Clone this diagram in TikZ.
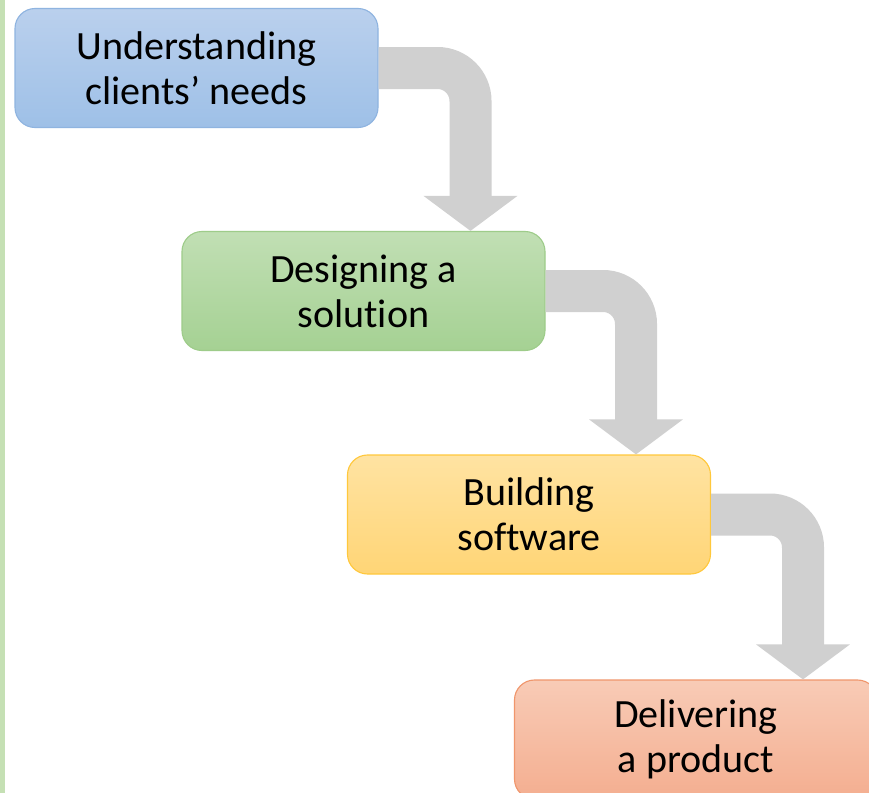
\documentclass[tikz,border=0pt]{standalone}
\usepackage{fontspec}
\setmainfont{Carlito}[Ligatures=NoCommon]
\usetikzlibrary{arrows.meta}

\definecolor{leftbar}{RGB}{197,224,180}
\definecolor{arrowgray}{RGB}{208,208,208}
\definecolor{bluetop}{RGB}{186,208,237}
\definecolor{bluebot}{RGB}{158,192,231}
\definecolor{blueline}{RGB}{143,180,224}
\definecolor{greentop}{RGB}{193,223,180}
\definecolor{greenbot}{RGB}{165,209,147}
\definecolor{greenline}{RGB}{158,204,138}
\definecolor{yellowtop}{RGB}{255,227,162}
\definecolor{yellowbot}{RGB}{255,213,118}
\definecolor{yellowline}{RGB}{255,200,60}
\definecolor{orangetop}{RGB}{248,203,182}
\definecolor{orangebot}{RGB}{244,174,144}
\definecolor{orangeline}{RGB}{240,150,108}

\begin{document}
\begin{tikzpicture}[
    stage/.style={rounded corners=.5cm, minimum width=9.075cm,
      minimum height=2.975cm, align=center, line width=.8pt,
      font=\fontsize{28.5}{32}\selectfont},
    flow/.style={draw=arrowgray, line width=1.05cm, rounded corners=.825cm,
      -{Triangle[length=.875cm, width=2.3cm]}},
  ]
    \clip (0, 0) rectangle (21.725, -19.825) ;
    \fill[white] (0, 0) rectangle (21.725, -19.825) ;
    \fill[leftbar] (0, 0) rectangle (.125, -19.825) ;

    % the four stages
    \node[stage, draw=blueline, top color=bluetop, bottom color=bluebot]
      (needs) at (4.9125, -1.7) {Understanding\\clients’ needs} ;
    \node[stage, draw=greenline, top color=greentop, bottom color=greenbot]
      (design) at (9.0875, -7.275) {Designing a\\solution} ;
    \node[stage, draw=yellowline, top color=yellowtop, bottom color=yellowbot]
      (build) at (13.225, -12.8625) {Building\\software} ;
    \node[stage, draw=orangeline, top color=orangetop, bottom color=orangebot]
      (deliver) at (17.4, -18.4875) {Delivering\\a product} ;

    % bent arrows
    \draw[flow] (needs.east) -| ([xshift=2.675cm]design.north) ;
    \draw[flow] (design.east) -| ([xshift=2.675cm]build.north) ;
    \draw[flow] (build.east) -| ([xshift=2.675cm]deliver.north) ;
  \end{tikzpicture}
\end{document}
